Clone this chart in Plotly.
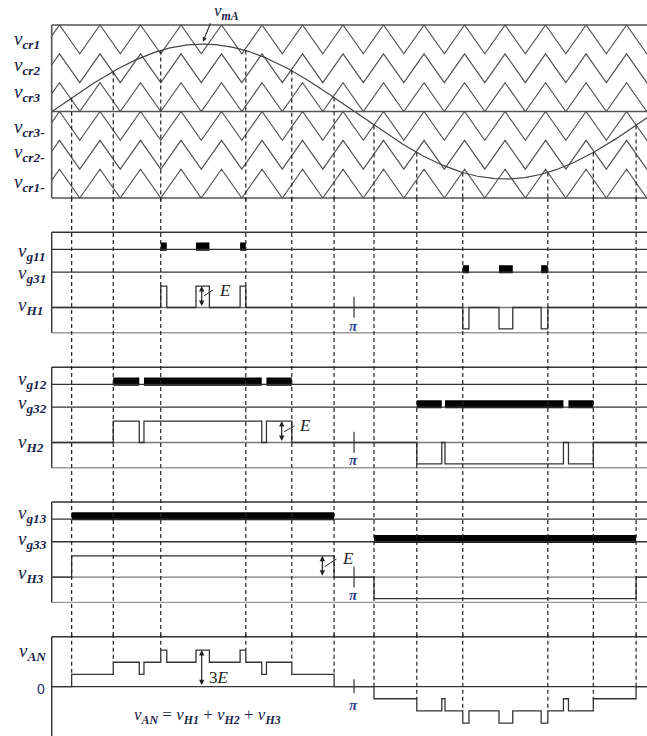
import numpy as np
import plotly.graph_objects as go

# ---------------- data (angles in electrical degrees) ----------------
x_start, x_end = -31.0, 354.6          # visible angle span
box_left = -0.2                         # where the panels start

carrier_rows = [2, 1, 0, -1, -2, -3]    # lower bound of v_cr1, v_cr2, v_cr3, v_cr3-, v_cr2-, v_cr1-
carrier_period = 24.14                  # degrees per carrier period
carrier_peak0 = 4.47                    # first carrier peak
mod_amp = 2.34                          # modulating wave amplitude in carrier-band units

# H-bridge cell outputs: intervals at +E / -E (degrees)
vH1_pos = [[64.8, 68.4], [85.8, 93.8], [112.1, 115.5]]
vH1_neg = [[244.8, 248.5], [266.4, 274.6], [291.5, 295.5]]
vH2_pos = [[36.5, 52.0], [54.8, 125.0], [127.8, 142.9]]
vH2_neg = [[217.4, 232.3], [234.2, 304.8], [307.8, 322.6]]
vH3_pos = [[11.7, 168.1]]
vH3_neg = [[191.9, 348.1]]

dashed_t = [11.7, 36.5, 64.8, 115.5, 142.9, 168.1, 191.9, 217.4, 244.8, 295.5, 322.6, 348.1]

carrier_labels = ["cr1", "cr2", "cr3", "cr3-", "cr2-", "cr1-"]

# ---------------- layout constants ----------------
W, H = 647, 736
TOP, BOT, G1, G3 = 3.52, -1.18, 2.72, 1.66
INK = "#2b2b2b"
GREY = "#9a9a9a"
LBL = "#1b1f4b"


def panel(top_px, bot_px, top_val, bot_val, pad_top=3, pad_bot=3):
    s = (bot_px - top_px) / (top_val - bot_val)
    dom = [max(0.0, 1 - (bot_px + pad_bot) / H), min(1.0, 1 - (top_px - pad_top) / H)]
    rng = [bot_val - pad_bot / s, top_val + pad_top / s]
    return dom, rng


panels = [
    panel(25, 198, 3, -3),                      # carriers
    panel(232.3, 332.7, TOP, BOT),              # cell 1
    panel(367.3, 467.7, TOP, BOT),              # cell 2
    panel(502.0, 602.4, TOP, BOT),              # cell 3
    panel(636.7, 736, 4.1, -4.06, pad_bot=0),   # v_AN
]

fig = go.Figure()


def line(x, y, ax, color=INK, width=1.3, dash=None, shape="linear"):
    fig.add_trace(go.Scatter(x=list(x), y=list(y), mode="lines", xaxis="x", yaxis=ax,
                             line=dict(color=color, width=width, dash=dash, shape=shape),
                             hoverinfo="skip", showlegend=False))


def level_at(t, pos, neg):
    v = 0
    for a, b in pos:
        if a <= t < b:
            v += 1
    for a, b in neg:
        if a <= t < b:
            v -= 1
    return v


def step_xy(groups):
    edges = sorted({e for pos, neg in groups for iv in pos + neg for e in iv})
    xs = [box_left] + edges + [x_end + 5]
    ys = [sum(level_at(t, p, n) for p, n in groups) for t in xs]
    return xs, ys


# ---------------- carrier panel ----------------
for b in carrier_rows:
    half = carrier_period / 2
    verts = [carrier_peak0 + k * half for k in range(-4, 40)]
    xs = [box_left] + [v for v in verts if box_left < v < x_end + 20]
    ys = []
    for x in xs:
        ph = ((x - carrier_peak0) / carrier_period) % 1.0
        ys.append(b + abs(1 - 2 * ph))
    line(xs, ys, "y", color="#555555", width=1.2)

tt = np.linspace(box_left, x_end + 5, 500)
line(tt, mod_amp * np.sin(np.radians(tt)), "y", color="#444444", width=1.2)

for yv in [3, 0, -3]:
    line([box_left, x_end + 5], [yv, yv], "y", color="#555555", width=1.6)
line([box_left, box_left], [-3, 3], "y", color="#555555", width=1.6)

# ---------------- cell panels ----------------
cells = [
    ("y2", vH1_pos, vH1_neg, ("g11", "g31", "H1")),
    ("y3", vH2_pos, vH2_neg, ("g12", "g32", "H2")),
    ("y4", vH3_pos, vH3_neg, ("g13", "g33", "H3")),
]
for ax, pos, neg, _ in cells:
    line([box_left, x_end + 5], [TOP, TOP], ax, color="#333333", width=1.4)
    line([box_left, x_end + 5], [BOT, BOT], ax, color=GREY, width=1.4)
    line([box_left, box_left], [BOT, TOP], ax, color="#333333", width=1.4)
    line([box_left, x_end + 5], [G1, G1], ax, color="#333333", width=1.3)
    line([box_left, x_end + 5], [G3, G3], ax, color="#333333", width=1.3)
    line([box_left, x_end + 5], [0, 0], ax, color="#7a7a7a", width=1.3)
    for gy, ivs in [(G1, pos), (G3, neg)]:
        fig.add_trace(go.Bar(y=[gy + 0.13] * len(ivs), x=[b - a for a, b in ivs],
                             base=[a for a, b in ivs], orientation="h", width=0.38,
                             marker=dict(color="black", line=dict(width=0)),
                             xaxis="x", yaxis=ax, hoverinfo="skip", showlegend=False))
    xs, ys = step_xy([(pos, neg)])
    line(xs, ys, ax, color="#333333", width=1.3, shape="hv")
    line([180, 180], [-0.48, 0.5], ax, color="#333333", width=1.2)

# ---------------- v_AN panel ----------------
line([box_left, x_end + 5], [4.1, 4.1], "y5", color="#333333", width=1.4)
line([box_left, box_left], [-4.2, 4.1], "y5", color="#333333", width=1.4)
line([box_left, x_end + 5], [0, 0], "y5", color="#333333", width=1.4)
groups = [(vH1_pos, vH1_neg), (vH2_pos, vH2_neg), (vH3_pos, vH3_neg)]
xs, ys = step_xy(groups)
line(xs, ys, "y5", color="#333333", width=1.3, shape="hv")
line([180, 180], [-0.54, 0.6], "y5", color="#333333", width=1.2)

# ---------------- dashed projection lines ----------------
DASH = "4px,3px"
car_bot_paper = 1 - 198 / H
an_top_paper = 1 - 636.7 / H
for t in dashed_t:
    line([t, t], [mod_amp * np.sin(np.radians(t)), panels[0][1][0]], "y",
         color="#222222", width=1.2, dash=DASH)
    fig.add_shape(type="line", xref="x", yref="paper", x0=t, x1=t,
                  y0=car_bot_paper, y1=an_top_paper,
                  line=dict(color="#222222", width=1.2, dash=DASH))
    lv = max(sum(level_at(t - 0.01, p, n) for p, n in groups),
             sum(level_at(t + 0.01, p, n) for p, n in groups))
    line([t, t], [panels[4][1][1], lv], "y5", color="#222222", width=1.2, dash=DASH)

# ---------------- E arrows ----------------
def e_arrow(x, y0, y1, ax):
    fig.add_annotation(x=x, y=y1, ax=x, ay=y0, xref="x", yref=ax, axref="x", ayref=ax,
                       text="", showarrow=True, arrowhead=2, arrowside="end+start",
                       arrowsize=0.9, arrowwidth=1.2, arrowcolor="#222222", standoff=0,
                       startstandoff=0)


e_arrow(89.2, 0, 1, "y2")
e_arrow(136.9, 0, 1, "y3")
e_arrow(161.1, 0, 1, "y4")
e_arrow(89.2, 0, 3, "y5")
line([90.6, 96.0], [0.55, 0.82], "y2", color="#333333", width=1.0)
line([138.3, 144.5], [0.5, 0.78], "y3", color="#333333", width=1.0)
line([162.6, 169.5], [0.5, 0.85], "y4", color="#333333", width=1.0)

# ---------------- axes / layout ----------------
layout_axes = {}
for i, (dom, rng) in enumerate(panels):
    key = "yaxis" if i == 0 else f"yaxis{i + 1}"
    layout_axes[key] = dict(domain=dom, range=rng, visible=False, anchor="x", fixedrange=True)

fig.update_layout(
    width=W, height=H, margin=dict(l=0, r=0, t=0, b=0),
    paper_bgcolor="white", plot_bgcolor="white", barmode="overlay", showlegend=False,
    xaxis=dict(range=[x_start, x_end], domain=[0, 1], visible=False, fixedrange=True),
    **layout_axes,
)

SERIF = "Liberation Serif"


def lab(text, px, py, size=18, color=LBL, xanchor="left", family=SERIF):
    fig.add_annotation(x=px / W, y=1 - py / H, xref="paper", yref="paper", text=text,
                       showarrow=False, xanchor=xanchor, yanchor="middle",
                       font=dict(family=family, size=size, color=color))


def vsub(s):
    return f"<i>v</i><sub><b><i>{s}</i></b></sub>"


car_y = [40, 66, 93, 128, 153, 183]
for s, py in zip(carrier_labels, car_y):
    lab(vsub(s), 12, py, size=19)

cell_label_y = [(252, 274, 306), (380, 404, 443), (514, 540, 574)]
for (ax, pos, neg, names), ys_ in zip(cells, cell_label_y):
    for nm, py in zip(names, ys_):
        lab(vsub(nm), 16, py, size=19)
lab(vsub("AN"), 17, 652, size=19)
lab("0", 41, 689, size=14, color="#1c2a6a", xanchor="center", family="Liberation Sans")

# pi labels
for py in [326, 460, 595, 705]:
    lab("<b><i>π</i></b>", 353, py, size=15, color="#2f3f8f", xanchor="center")

# E labels
lab("<i>E</i>", 217, 290, size=17, color="#222222")
lab("<i>E</i>", 297, 425, size=17, color="#222222")
lab("<i>E</i>", 340, 558, size=17, color="#222222")
lab("3<i>E</i>", 207, 677, size=17, color="#222222")

# modulating wave label and arrow
lab(vsub("mA"), 212, 12, size=17)
fig.add_annotation(x=90, y=2.42, xref="x", yref="y", ax=8, ay=-20, text="", showarrow=True,
                   arrowhead=2, arrowsize=0.8, arrowwidth=1.1, arrowcolor="#222222")

# equation
lab(vsub("AN") + " = " + vsub("H1") + " + " + vsub("H2") + " + " + vsub("H3"),
    207, 716, size=17, color=LBL, xanchor="center")

fig.write_html("out.html")
